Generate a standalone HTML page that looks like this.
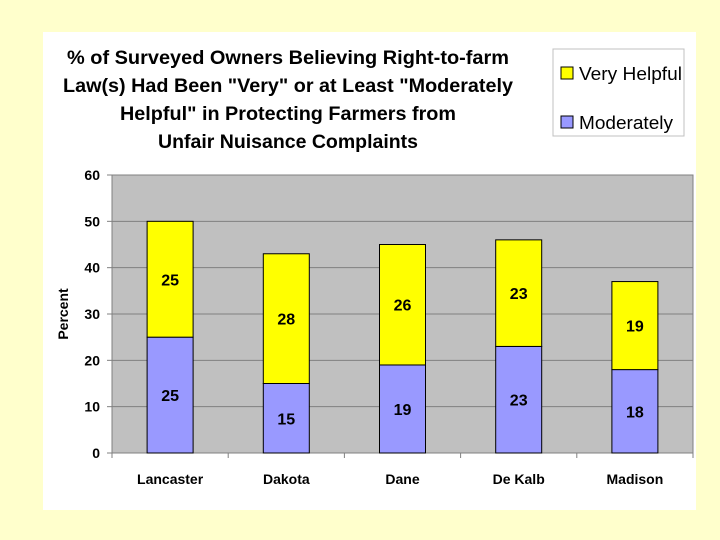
<!DOCTYPE html>
<html><head><meta charset="utf-8"><style>
body{margin:0;background:#ffffcc;}
svg{display:block;font-family:"Liberation Sans",Arial,sans-serif;}
</style></head><body>
<svg id="c" width="720" height="540" xmlns="http://www.w3.org/2000/svg">
<rect x="0" y="0" width="720" height="540" fill="#ffffcc"/>
<rect x="43" y="32" width="653" height="478" fill="#ffffff"/>
<g font-weight="bold" font-size="19" fill="#000" text-anchor="middle">
<text x="288" y="64" textLength="442" lengthAdjust="spacingAndGlyphs">% of Surveyed Owners Believing Right-to-farm</text>
<text x="288" y="92" textLength="450" lengthAdjust="spacingAndGlyphs">Law(s) Had Been "Very" or at Least "Moderately</text>
<text x="288" y="120" textLength="336" lengthAdjust="spacingAndGlyphs">Helpful" in Protecting Farmers from</text>
<text x="288" y="148" textLength="260" lengthAdjust="spacingAndGlyphs">Unfair Nuisance Complaints</text>
</g>
<g>
<rect x="553" y="49" width="131" height="87" fill="#fff" stroke="#c0c0c0"/>
<rect x="561" y="67" width="12" height="12" fill="#ffff00" stroke="#000"/>
<text x="579" y="80" font-size="18" textLength="103" lengthAdjust="spacingAndGlyphs">Very Helpful</text>
<rect x="561" y="116" width="12" height="12" fill="#9999ff" stroke="#000"/>
<text x="579" y="129" font-size="18" textLength="94" lengthAdjust="spacingAndGlyphs">Moderately</text>
</g>
<rect x="112" y="175" width="581" height="278" fill="#c0c0c0" stroke="#808080"/>
<g id="grid"></g>
<g id="bars"></g>
<text transform="translate(68,314) rotate(-90)" text-anchor="middle" font-size="14" font-weight="bold">Percent</text>
</svg>
<script>
const categories=["Lancaster","Dakota","Dane","De Kalb","Madison"];
const moderately=[25,15,19,23,18];
const veryHelpful=[25,28,26,23,19];
const yTicks=[0,10,20,30,40,50,60];
const NS="http://www.w3.org/2000/svg";
const X0=112,X1=693,Y0=453,Y1=175,YMAX=60;
const y=v=>Y0-(Y0-Y1)*v/YMAX;
const band=(X1-X0)/categories.length;
const xc=i=>X0+band*(i+0.5);
const BW=46;
function mk(tag,attrs,parent){const e=document.createElementNS(NS,tag);for(const k in attrs)e.setAttribute(k,attrs[k]);parent.appendChild(e);return e;}
const grid=document.getElementById('grid'),bars=document.getElementById('bars');
yTicks.forEach(t=>{
  if(t>0&&t<YMAX){const l=mk('line',{x1:X0,x2:X1,y1:y(t),y2:y(t),stroke:'#808080'},grid);
  
  }
  const tk=mk('line',{x1:X0-5,x2:X0,y1:y(t),y2:y(t),stroke:'#808080'},grid);
  
  
  const tx=mk('text',{x:X0-12,y:y(t)+5,'text-anchor':'end','font-size':'14','font-weight':'bold'},grid);
  tx.textContent=t;
  
  
});
mk('line',{x1:X0,x2:X0,y1:Y1,y2:Y0,stroke:'#808080'},grid);
for(let i=0;i<=categories.length;i++){const tk=mk('line',{x1:X0+band*i,x2:X0+band*i,y1:Y0,y2:Y0+5,stroke:'#808080'},grid);
  
  }
categories.forEach((c,i)=>{
  const m=moderately[i],v=veryHelpful[i],cx=xc(i);
  const b1=mk('rect',{x:cx-BW/2,y:y(m),width:BW,height:y(0)-y(m),fill:'#9999ff',stroke:'#000'},bars);
  
  
  const b2=mk('rect',{x:cx-BW/2,y:y(m+v),width:BW,height:y(m)-y(m+v),fill:'#ffff00',stroke:'#000'},bars);
  
  
  const t1=mk('text',{x:cx,y:(y(0)+y(m))/2+6,'text-anchor':'middle','font-size':'16','font-weight':'bold'},bars);
  t1.textContent=m;
  
  
  const t2=mk('text',{x:cx,y:(y(m)+y(m+v))/2+6,'text-anchor':'middle','font-size':'16','font-weight':'bold'},bars);
  t2.textContent=v;
  
  
  const cl=mk('text',{x:cx,y:484,'text-anchor':'middle','font-size':'14','font-weight':'bold'},bars);
  cl.textContent=c;
  
  
});
</script>
</body></html>
